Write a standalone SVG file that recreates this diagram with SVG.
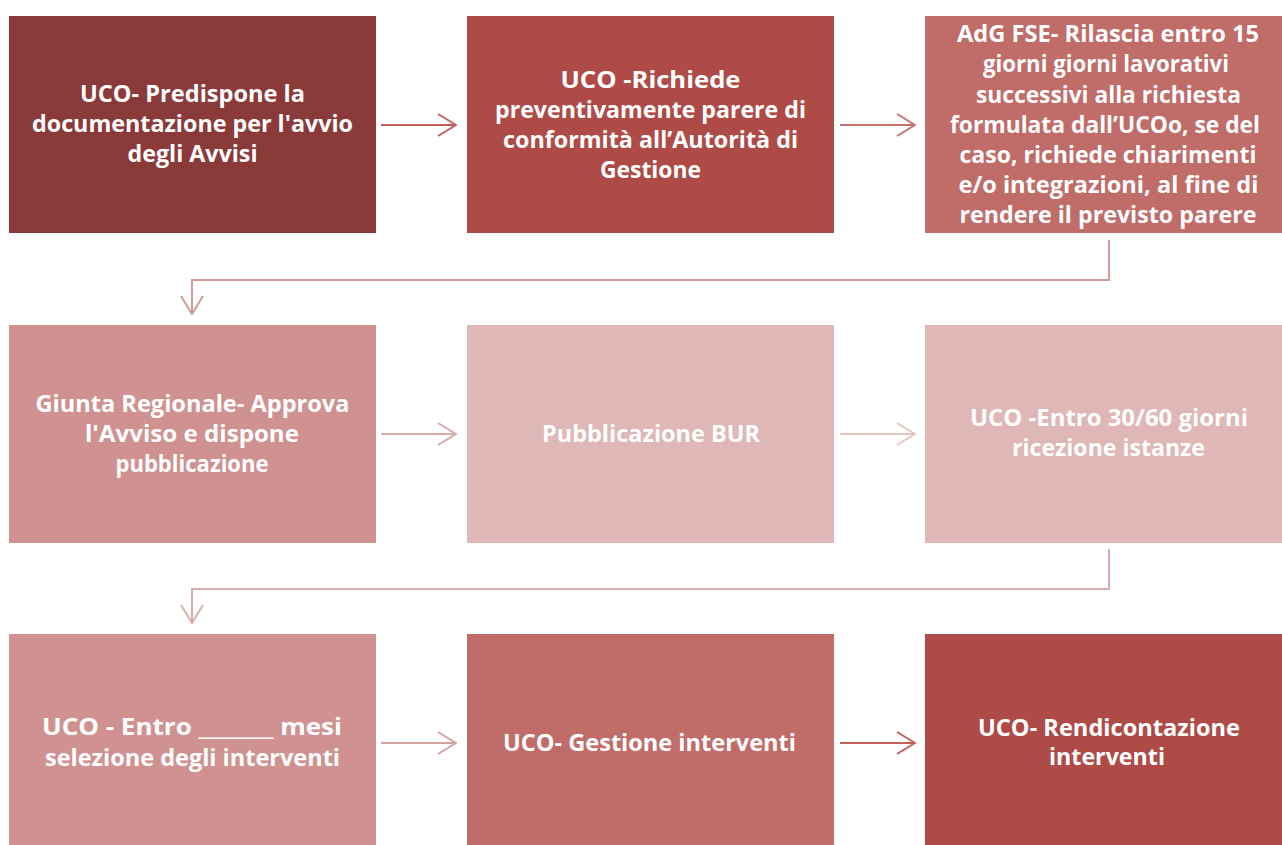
<svg xmlns="http://www.w3.org/2000/svg" width="1282" height="845" viewBox="0 0 1282 845">
<style>
.t{font-family:"Open Sans","Noto Sans","Liberation Sans",sans-serif;font-weight:bold;font-size:23px;fill:#fff;text-anchor:middle}
.c{fill:none;stroke-width:2}
</style>
<defs>
<marker id="m1" viewBox="0 0 20 24" refX="19" refY="12" markerWidth="20" markerHeight="24" markerUnits="userSpaceOnUse" orient="auto"><path d="M1,1 L19,12 L1,23" fill="none" stroke="#C4605C" stroke-width="2"/></marker>
<marker id="m2" viewBox="0 0 20 24" refX="19" refY="12" markerWidth="20" markerHeight="24" markerUnits="userSpaceOnUse" orient="auto"><path d="M1,1 L19,12 L1,23" fill="none" stroke="#C77370" stroke-width="2"/></marker>
<marker id="m3" viewBox="0 0 20 24" refX="19" refY="12" markerWidth="20" markerHeight="24" markerUnits="userSpaceOnUse" orient="auto"><path d="M1,1 L19,12 L1,23" fill="none" stroke="#D19B99" stroke-width="2"/></marker>
<marker id="m4" viewBox="0 0 20 24" refX="19" refY="12" markerWidth="20" markerHeight="24" markerUnits="userSpaceOnUse" orient="auto"><path d="M1,1 L19,12 L1,23" fill="none" stroke="#D8A9A7" stroke-width="2"/></marker>
<marker id="m5" viewBox="0 0 20 24" refX="19" refY="12" markerWidth="20" markerHeight="24" markerUnits="userSpaceOnUse" orient="auto"><path d="M1,1 L19,12 L1,23" fill="none" stroke="#E4C4C3" stroke-width="2"/></marker>
<marker id="m6" viewBox="0 0 20 24" refX="19" refY="12" markerWidth="20" markerHeight="24" markerUnits="userSpaceOnUse" orient="auto"><path d="M1,1 L19,12 L1,23" fill="none" stroke="#D8ADAC" stroke-width="2"/></marker>
<marker id="m7" viewBox="0 0 20 24" refX="19" refY="12" markerWidth="20" markerHeight="24" markerUnits="userSpaceOnUse" orient="auto"><path d="M1,1 L19,12 L1,23" fill="none" stroke="#D5A2A0" stroke-width="2"/></marker>
</defs>
<rect width="1282" height="845" fill="#fff"/>

<g id="connectors">
<path class="c" stroke="#C4605C" d="M381,125 H456" marker-end="url(#m1)"/>
<path class="c" stroke="#C77370" d="M840,125 H915" marker-end="url(#m2)"/>
<path class="c" stroke="#D19B99" d="M1109,240 V280 H192 V314" marker-end="url(#m3)"/>
<path class="c" stroke="#D8A9A7" d="M381,434 H456" marker-end="url(#m4)"/>
<path class="c" stroke="#E4C4C3" d="M840,434 H915" marker-end="url(#m5)"/>
<path class="c" stroke="#D8ADAC" d="M1109,549 V589 H192 V623" marker-end="url(#m6)"/>
<path class="c" stroke="#D5A2A0" d="M381,743 H456" marker-end="url(#m7)"/>
<path class="c" stroke="#C4605C" d="M840,743 H915" marker-end="url(#m1)"/>
</g>

<g id="n1">
<rect x="9" y="16" width="367" height="217" fill="#8B3A3A"/>
<text class="t" x="192.5" y="102" textLength="225" lengthAdjust="spacingAndGlyphs">UCO- Predispone la</text>
<text class="t" x="192.5" y="132" textLength="321" lengthAdjust="spacingAndGlyphs">documentazione per l'avvio</text>
<text class="t" x="192.5" y="162" textLength="130" lengthAdjust="spacingAndGlyphs">degli Avvisi</text>
</g>
<g id="n2">
<rect x="467" y="16" width="367" height="217" fill="#AE4B47"/>
<text class="t" x="650.5" y="88" textLength="180" lengthAdjust="spacingAndGlyphs">UCO -Richiede</text>
<text class="t" x="650.5" y="118" textLength="311" lengthAdjust="spacingAndGlyphs">preventivamente parere di</text>
<text class="t" x="650.5" y="148" textLength="295" lengthAdjust="spacingAndGlyphs">conformità all’Autorità di</text>
<text class="t" x="650.5" y="178" textLength="101" lengthAdjust="spacingAndGlyphs">Gestione</text>
</g>
<g id="n3">
<rect x="925" y="16" width="368" height="217" fill="#C06C69"/>
<text class="t" x="1108" y="42" textLength="302" lengthAdjust="spacingAndGlyphs">AdG FSE- Rilascia entro 15</text>
<text class="t" x="1106" y="72" textLength="246" lengthAdjust="spacingAndGlyphs">giorni giorni lavorativi</text>
<text class="t" x="1108.5" y="102.5" textLength="265" lengthAdjust="spacingAndGlyphs">successivi alla richiesta</text>
<text class="t" x="1105" y="132.5" textLength="310" lengthAdjust="spacingAndGlyphs">formulata dall’UCOo, se del</text>
<text class="t" x="1108" y="163" textLength="297" lengthAdjust="spacingAndGlyphs">caso, richiede chiarimenti</text>
<text class="t" x="1108.5" y="193" textLength="300" lengthAdjust="spacingAndGlyphs">e/o integrazioni, al fine di</text>
<text class="t" x="1108" y="223" textLength="297" lengthAdjust="spacingAndGlyphs">rendere il previsto parere</text>
</g>
<g id="n4">
<rect x="9" y="325" width="367" height="218" fill="#CF9290"/>
<text class="t" x="192.5" y="412" textLength="314" lengthAdjust="spacingAndGlyphs">Giunta Regionale- Approva</text>
<text class="t" x="192" y="442" textLength="214" lengthAdjust="spacingAndGlyphs">l'Avviso e dispone</text>
<text class="t" x="192" y="472" textLength="153" lengthAdjust="spacingAndGlyphs">pubblicazione</text>
</g>
<g id="n5">
<rect x="467" y="325" width="367" height="218" fill="#DEB7B6"/>
<text class="t" x="651" y="442" textLength="218" lengthAdjust="spacingAndGlyphs">Pubblicazione BUR</text>
</g>
<g id="n6">
<rect x="925" y="325" width="368" height="218" fill="#DEB7B6"/>
<text class="t" x="1109" y="426" textLength="278" lengthAdjust="spacingAndGlyphs">UCO -Entro 30/60 giorni</text>
<text class="t" x="1108.5" y="456" textLength="193" lengthAdjust="spacingAndGlyphs">ricezione istanze</text>
</g>
<g id="n7">
<rect x="9" y="634" width="367" height="218" fill="#CF9290"/>
<text class="t" x="192" y="735" textLength="300" lengthAdjust="spacingAndGlyphs">UCO - Entro _______ mesi</text>
<text class="t" x="192.5" y="766" textLength="295" lengthAdjust="spacingAndGlyphs">selezione degli interventi</text>
</g>
<g id="n8">
<rect x="467" y="634" width="367" height="218" fill="#C06C69"/>
<text class="t" x="649.5" y="751" textLength="293" lengthAdjust="spacingAndGlyphs">UCO- Gestione interventi</text>
</g>
<g id="n9">
<rect x="925" y="634" width="368" height="218" fill="#AE4B47"/>
<text class="t" x="1109" y="736" textLength="262" lengthAdjust="spacingAndGlyphs">UCO- Rendicontazione</text>
<text class="t" x="1107" y="765" textLength="116" lengthAdjust="spacingAndGlyphs">interventi</text>
</g>
</svg>
